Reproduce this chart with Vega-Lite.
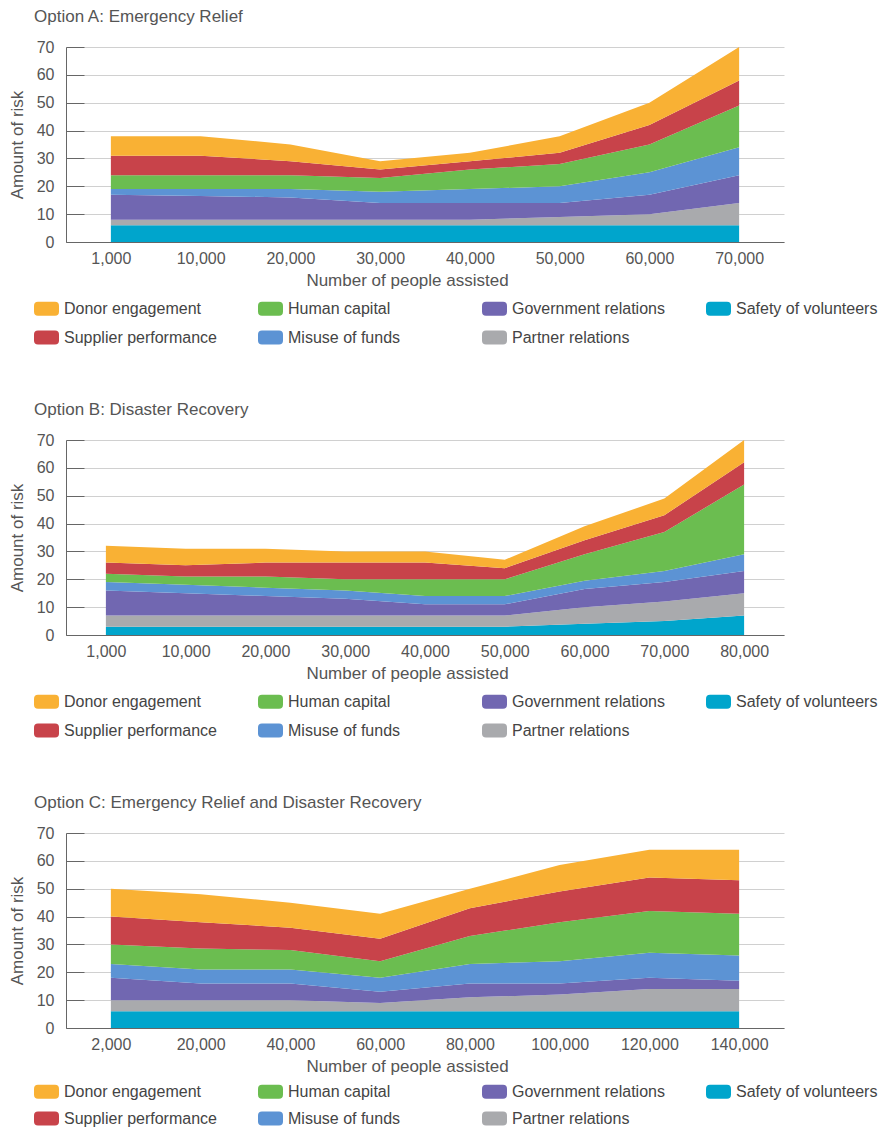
{
  "$schema": "https://vega.github.io/schema/vega-lite/v6.json",
  "background": "white",
  "padding": {"left": 8, "top": 8, "right": 5, "bottom": 0},
  "config": {
    "font": "Liberation Sans",
    "view": {"stroke": null},
    "axis": {"labelFontSize": 16, "labelColor": "#555", "titleFontSize": 17, "titleFontWeight": "normal", "titleColor": "#555", "domainColor": "#666", "gridColor": "#d0d0d0"},
    "title": {"anchor": "start", "frame": "group", "dx": -32, "fontSize": 17, "fontWeight": "normal", "color": "#555", "offset": 13},
    "concat": {"spacing": 55}
  },
  "datasets": {
    "rank": [
      {"risk": "Safety of volunteers", "rank": 1}, {"risk": "Partner relations", "rank": 2}, {"risk": "Government relations", "rank": 3}, {"risk": "Misuse of funds", "rank": 4}, {"risk": "Human capital", "rank": 5}, {"risk": "Supplier performance", "rank": 6}, {"risk": "Donor engagement", "rank": 7}
    ],
    "A": [
      {"people": "1,000", "risk": "Safety of volunteers", "value": 6}, {"people": "1,000", "risk": "Partner relations", "value": 2}, {"people": "1,000", "risk": "Government relations", "value": 9}, {"people": "1,000", "risk": "Misuse of funds", "value": 2}, {"people": "1,000", "risk": "Human capital", "value": 5}, {"people": "1,000", "risk": "Supplier performance", "value": 7}, {"people": "1,000", "risk": "Donor engagement", "value": 7},
      {"people": "10,000", "risk": "Safety of volunteers", "value": 6}, {"people": "10,000", "risk": "Partner relations", "value": 2}, {"people": "10,000", "risk": "Government relations", "value": 8.5}, {"people": "10,000", "risk": "Misuse of funds", "value": 2.5}, {"people": "10,000", "risk": "Human capital", "value": 5}, {"people": "10,000", "risk": "Supplier performance", "value": 7}, {"people": "10,000", "risk": "Donor engagement", "value": 7},
      {"people": "20,000", "risk": "Safety of volunteers", "value": 6}, {"people": "20,000", "risk": "Partner relations", "value": 2}, {"people": "20,000", "risk": "Government relations", "value": 8}, {"people": "20,000", "risk": "Misuse of funds", "value": 3}, {"people": "20,000", "risk": "Human capital", "value": 5}, {"people": "20,000", "risk": "Supplier performance", "value": 5}, {"people": "20,000", "risk": "Donor engagement", "value": 6},
      {"people": "30,000", "risk": "Safety of volunteers", "value": 6}, {"people": "30,000", "risk": "Partner relations", "value": 2}, {"people": "30,000", "risk": "Government relations", "value": 6}, {"people": "30,000", "risk": "Misuse of funds", "value": 4}, {"people": "30,000", "risk": "Human capital", "value": 5}, {"people": "30,000", "risk": "Supplier performance", "value": 3}, {"people": "30,000", "risk": "Donor engagement", "value": 3},
      {"people": "40,000", "risk": "Safety of volunteers", "value": 6}, {"people": "40,000", "risk": "Partner relations", "value": 2}, {"people": "40,000", "risk": "Government relations", "value": 6}, {"people": "40,000", "risk": "Misuse of funds", "value": 5}, {"people": "40,000", "risk": "Human capital", "value": 7}, {"people": "40,000", "risk": "Supplier performance", "value": 3}, {"people": "40,000", "risk": "Donor engagement", "value": 3},
      {"people": "50,000", "risk": "Safety of volunteers", "value": 6}, {"people": "50,000", "risk": "Partner relations", "value": 3}, {"people": "50,000", "risk": "Government relations", "value": 5}, {"people": "50,000", "risk": "Misuse of funds", "value": 6}, {"people": "50,000", "risk": "Human capital", "value": 8}, {"people": "50,000", "risk": "Supplier performance", "value": 4}, {"people": "50,000", "risk": "Donor engagement", "value": 6},
      {"people": "60,000", "risk": "Safety of volunteers", "value": 6}, {"people": "60,000", "risk": "Partner relations", "value": 4}, {"people": "60,000", "risk": "Government relations", "value": 7}, {"people": "60,000", "risk": "Misuse of funds", "value": 8}, {"people": "60,000", "risk": "Human capital", "value": 10}, {"people": "60,000", "risk": "Supplier performance", "value": 7}, {"people": "60,000", "risk": "Donor engagement", "value": 8},
      {"people": "70,000", "risk": "Safety of volunteers", "value": 6}, {"people": "70,000", "risk": "Partner relations", "value": 8}, {"people": "70,000", "risk": "Government relations", "value": 10}, {"people": "70,000", "risk": "Misuse of funds", "value": 10}, {"people": "70,000", "risk": "Human capital", "value": 15}, {"people": "70,000", "risk": "Supplier performance", "value": 9}, {"people": "70,000", "risk": "Donor engagement", "value": 12}
    ],
    "B": [
      {"people": "1,000", "risk": "Safety of volunteers", "value": 3}, {"people": "1,000", "risk": "Partner relations", "value": 4}, {"people": "1,000", "risk": "Government relations", "value": 9}, {"people": "1,000", "risk": "Misuse of funds", "value": 3}, {"people": "1,000", "risk": "Human capital", "value": 3}, {"people": "1,000", "risk": "Supplier performance", "value": 4}, {"people": "1,000", "risk": "Donor engagement", "value": 6},
      {"people": "10,000", "risk": "Safety of volunteers", "value": 3}, {"people": "10,000", "risk": "Partner relations", "value": 4}, {"people": "10,000", "risk": "Government relations", "value": 8}, {"people": "10,000", "risk": "Misuse of funds", "value": 3}, {"people": "10,000", "risk": "Human capital", "value": 3}, {"people": "10,000", "risk": "Supplier performance", "value": 4}, {"people": "10,000", "risk": "Donor engagement", "value": 6},
      {"people": "20,000", "risk": "Safety of volunteers", "value": 3}, {"people": "20,000", "risk": "Partner relations", "value": 4}, {"people": "20,000", "risk": "Government relations", "value": 7}, {"people": "20,000", "risk": "Misuse of funds", "value": 3}, {"people": "20,000", "risk": "Human capital", "value": 4}, {"people": "20,000", "risk": "Supplier performance", "value": 5}, {"people": "20,000", "risk": "Donor engagement", "value": 5},
      {"people": "30,000", "risk": "Safety of volunteers", "value": 3}, {"people": "30,000", "risk": "Partner relations", "value": 4}, {"people": "30,000", "risk": "Government relations", "value": 6}, {"people": "30,000", "risk": "Misuse of funds", "value": 3}, {"people": "30,000", "risk": "Human capital", "value": 4}, {"people": "30,000", "risk": "Supplier performance", "value": 6}, {"people": "30,000", "risk": "Donor engagement", "value": 4},
      {"people": "40,000", "risk": "Safety of volunteers", "value": 3}, {"people": "40,000", "risk": "Partner relations", "value": 4}, {"people": "40,000", "risk": "Government relations", "value": 4}, {"people": "40,000", "risk": "Misuse of funds", "value": 3}, {"people": "40,000", "risk": "Human capital", "value": 6}, {"people": "40,000", "risk": "Supplier performance", "value": 6}, {"people": "40,000", "risk": "Donor engagement", "value": 4},
      {"people": "50,000", "risk": "Safety of volunteers", "value": 3}, {"people": "50,000", "risk": "Partner relations", "value": 4}, {"people": "50,000", "risk": "Government relations", "value": 4}, {"people": "50,000", "risk": "Misuse of funds", "value": 3}, {"people": "50,000", "risk": "Human capital", "value": 6}, {"people": "50,000", "risk": "Supplier performance", "value": 4}, {"people": "50,000", "risk": "Donor engagement", "value": 3},
      {"people": "60,000", "risk": "Safety of volunteers", "value": 4}, {"people": "60,000", "risk": "Partner relations", "value": 6}, {"people": "60,000", "risk": "Government relations", "value": 6.5}, {"people": "60,000", "risk": "Misuse of funds", "value": 3}, {"people": "60,000", "risk": "Human capital", "value": 9.5}, {"people": "60,000", "risk": "Supplier performance", "value": 5}, {"people": "60,000", "risk": "Donor engagement", "value": 5},
      {"people": "70,000", "risk": "Safety of volunteers", "value": 5}, {"people": "70,000", "risk": "Partner relations", "value": 7}, {"people": "70,000", "risk": "Government relations", "value": 7}, {"people": "70,000", "risk": "Misuse of funds", "value": 4}, {"people": "70,000", "risk": "Human capital", "value": 14}, {"people": "70,000", "risk": "Supplier performance", "value": 6}, {"people": "70,000", "risk": "Donor engagement", "value": 6},
      {"people": "80,000", "risk": "Safety of volunteers", "value": 7}, {"people": "80,000", "risk": "Partner relations", "value": 8}, {"people": "80,000", "risk": "Government relations", "value": 8}, {"people": "80,000", "risk": "Misuse of funds", "value": 6}, {"people": "80,000", "risk": "Human capital", "value": 25}, {"people": "80,000", "risk": "Supplier performance", "value": 8}, {"people": "80,000", "risk": "Donor engagement", "value": 8}
    ],
    "C": [
      {"people": "2,000", "risk": "Safety of volunteers", "value": 6}, {"people": "2,000", "risk": "Partner relations", "value": 4}, {"people": "2,000", "risk": "Government relations", "value": 8}, {"people": "2,000", "risk": "Misuse of funds", "value": 5}, {"people": "2,000", "risk": "Human capital", "value": 7}, {"people": "2,000", "risk": "Supplier performance", "value": 10}, {"people": "2,000", "risk": "Donor engagement", "value": 10},
      {"people": "20,000", "risk": "Safety of volunteers", "value": 6}, {"people": "20,000", "risk": "Partner relations", "value": 4}, {"people": "20,000", "risk": "Government relations", "value": 6}, {"people": "20,000", "risk": "Misuse of funds", "value": 5}, {"people": "20,000", "risk": "Human capital", "value": 7.5}, {"people": "20,000", "risk": "Supplier performance", "value": 9.5}, {"people": "20,000", "risk": "Donor engagement", "value": 10},
      {"people": "40,000", "risk": "Safety of volunteers", "value": 6}, {"people": "40,000", "risk": "Partner relations", "value": 4}, {"people": "40,000", "risk": "Government relations", "value": 6}, {"people": "40,000", "risk": "Misuse of funds", "value": 5}, {"people": "40,000", "risk": "Human capital", "value": 7}, {"people": "40,000", "risk": "Supplier performance", "value": 8}, {"people": "40,000", "risk": "Donor engagement", "value": 9},
      {"people": "60,000", "risk": "Safety of volunteers", "value": 6}, {"people": "60,000", "risk": "Partner relations", "value": 3}, {"people": "60,000", "risk": "Government relations", "value": 4}, {"people": "60,000", "risk": "Misuse of funds", "value": 5}, {"people": "60,000", "risk": "Human capital", "value": 6}, {"people": "60,000", "risk": "Supplier performance", "value": 8}, {"people": "60,000", "risk": "Donor engagement", "value": 9},
      {"people": "80,000", "risk": "Safety of volunteers", "value": 6}, {"people": "80,000", "risk": "Partner relations", "value": 5}, {"people": "80,000", "risk": "Government relations", "value": 5}, {"people": "80,000", "risk": "Misuse of funds", "value": 7}, {"people": "80,000", "risk": "Human capital", "value": 10}, {"people": "80,000", "risk": "Supplier performance", "value": 10}, {"people": "80,000", "risk": "Donor engagement", "value": 7},
      {"people": "100,000", "risk": "Safety of volunteers", "value": 6}, {"people": "100,000", "risk": "Partner relations", "value": 6}, {"people": "100,000", "risk": "Government relations", "value": 4}, {"people": "100,000", "risk": "Misuse of funds", "value": 8}, {"people": "100,000", "risk": "Human capital", "value": 14}, {"people": "100,000", "risk": "Supplier performance", "value": 11}, {"people": "100,000", "risk": "Donor engagement", "value": 9.5},
      {"people": "120,000", "risk": "Safety of volunteers", "value": 6}, {"people": "120,000", "risk": "Partner relations", "value": 8}, {"people": "120,000", "risk": "Government relations", "value": 4}, {"people": "120,000", "risk": "Misuse of funds", "value": 9}, {"people": "120,000", "risk": "Human capital", "value": 15}, {"people": "120,000", "risk": "Supplier performance", "value": 12}, {"people": "120,000", "risk": "Donor engagement", "value": 10},
      {"people": "140,000", "risk": "Safety of volunteers", "value": 6}, {"people": "140,000", "risk": "Partner relations", "value": 8}, {"people": "140,000", "risk": "Government relations", "value": 3}, {"people": "140,000", "risk": "Misuse of funds", "value": 9}, {"people": "140,000", "risk": "Human capital", "value": 15}, {"people": "140,000", "risk": "Supplier performance", "value": 12}, {"people": "140,000", "risk": "Donor engagement", "value": 11}
    ]
  },
  "vconcat": [
    {
      "title": "Option A: Emergency Relief",
      "width": 718, "height": 195,
      "data": {"name": "A"},
      "transform": [{"lookup": "risk", "from": {"data": {"name": "rank"}, "key": "risk", "fields": ["rank"]}}],
      "mark": {"type": "area", "interpolate": "linear"},
      "encoding": {
        "x": {"field": "people", "type": "ordinal", "sort": null, "scale": {"type": "point", "padding": 0.5}, "axis": {"title": "Number of people assisted", "titleX": 341, "labelAngle": 0, "ticks": false, "grid": false, "labelPadding": 8, "titlePadding": 6}},
        "y": {"field": "value", "type": "quantitative", "stack": "zero", "scale": {"domain": [0, 70]}, "axis": {"title": "Amount of risk", "values": [0, 10, 20, 30, 40, 50, 60, 70], "tickSize": -18, "tickColor": "#666", "labelPadding": 30, "titlePadding": 10}},
        "order": {"field": "rank", "type": "quantitative", "sort": "ascending"},
        "color": {"field": "risk", "type": "nominal",
          "scale": {"domain": ["Safety of volunteers", "Partner relations", "Government relations", "Misuse of funds", "Human capital", "Supplier performance", "Donor engagement"], "range": ["#00A5CC", "#A9AAAD", "#7167B1", "#5C93D4", "#6BBD50", "#C8434A", "#F9B134"]},
          "legend": {"title": null, "orient": "none", "legendX": -32, "legendY": 249, "columns": 4, "gridAlign": "all", "columnPadding": 41, "rowPadding": 8, "padding": 0, "symbolType": "M-0.68,-0.56 L0.68,-0.56 Q1,-0.56 1,-0.24 L1,0.24 Q1,0.56 0.68,0.56 L-0.68,0.56 Q-1,0.56 -1,0.24 L-1,-0.24 Q-1,-0.56 -0.68,-0.56 Z", "symbolSize": 625, "symbolStrokeWidth": 0, "symbolOpacity": 1, "labelFontSize": 16, "labelColor": "#444", "labelOffset": 5, "labelLimit": 300,
            "values": ["Donor engagement", "Supplier performance", "Human capital", "Misuse of funds", "Government relations", "Partner relations", "Safety of volunteers"]}
        }
      }
    },
    {
      "title": "Option B: Disaster Recovery",
      "width": 718, "height": 195,
      "data": {"name": "B"},
      "transform": [{"lookup": "risk", "from": {"data": {"name": "rank"}, "key": "risk", "fields": ["rank"]}}],
      "mark": {"type": "area", "interpolate": "linear"},
      "encoding": {
        "x": {"field": "people", "type": "ordinal", "sort": null, "scale": {"type": "point", "padding": 0.5}, "axis": {"title": "Number of people assisted", "titleX": 341, "labelAngle": 0, "ticks": false, "grid": false, "labelPadding": 8, "titlePadding": 6}},
        "y": {"field": "value", "type": "quantitative", "stack": "zero", "scale": {"domain": [0, 70]}, "axis": {"title": "Amount of risk", "values": [0, 10, 20, 30, 40, 50, 60, 70], "tickSize": -18, "tickColor": "#666", "labelPadding": 30, "titlePadding": 10}},
        "order": {"field": "rank", "type": "quantitative", "sort": "ascending"},
        "color": {"field": "risk", "type": "nominal",
          "scale": {"domain": ["Safety of volunteers", "Partner relations", "Government relations", "Misuse of funds", "Human capital", "Supplier performance", "Donor engagement"], "range": ["#00A5CC", "#A9AAAD", "#7167B1", "#5C93D4", "#6BBD50", "#C8434A", "#F9B134"]},
          "legend": {"title": null, "orient": "none", "legendX": -32, "legendY": 249, "columns": 4, "gridAlign": "all", "columnPadding": 41, "rowPadding": 8, "padding": 0, "symbolType": "M-0.68,-0.56 L0.68,-0.56 Q1,-0.56 1,-0.24 L1,0.24 Q1,0.56 0.68,0.56 L-0.68,0.56 Q-1,0.56 -1,0.24 L-1,-0.24 Q-1,-0.56 -0.68,-0.56 Z", "symbolSize": 625, "symbolStrokeWidth": 0, "symbolOpacity": 1, "labelFontSize": 16, "labelColor": "#444", "labelOffset": 5, "labelLimit": 300,
            "values": ["Donor engagement", "Supplier performance", "Human capital", "Misuse of funds", "Government relations", "Partner relations", "Safety of volunteers"]}
        }
      }
    },
    {
      "title": "Option C: Emergency Relief and Disaster Recovery",
      "width": 718, "height": 195,
      "data": {"name": "C"},
      "transform": [{"lookup": "risk", "from": {"data": {"name": "rank"}, "key": "risk", "fields": ["rank"]}}],
      "mark": {"type": "area", "interpolate": "linear"},
      "encoding": {
        "x": {"field": "people", "type": "ordinal", "sort": null, "scale": {"type": "point", "padding": 0.5}, "axis": {"title": "Number of people assisted", "titleX": 341, "labelAngle": 0, "ticks": false, "grid": false, "labelPadding": 8, "titlePadding": 6}},
        "y": {"field": "value", "type": "quantitative", "stack": "zero", "scale": {"domain": [0, 70]}, "axis": {"title": "Amount of risk", "values": [0, 10, 20, 30, 40, 50, 60, 70], "tickSize": -18, "tickColor": "#666", "labelPadding": 30, "titlePadding": 10}},
        "order": {"field": "rank", "type": "quantitative", "sort": "ascending"},
        "color": {"field": "risk", "type": "nominal",
          "scale": {"domain": ["Safety of volunteers", "Partner relations", "Government relations", "Misuse of funds", "Human capital", "Supplier performance", "Donor engagement"], "range": ["#00A5CC", "#A9AAAD", "#7167B1", "#5C93D4", "#6BBD50", "#C8434A", "#F9B134"]},
          "legend": {"title": null, "orient": "none", "legendX": -32, "legendY": 246, "columns": 4, "gridAlign": "all", "columnPadding": 41, "rowPadding": 6, "padding": 0, "symbolType": "M-0.68,-0.56 L0.68,-0.56 Q1,-0.56 1,-0.24 L1,0.24 Q1,0.56 0.68,0.56 L-0.68,0.56 Q-1,0.56 -1,0.24 L-1,-0.24 Q-1,-0.56 -0.68,-0.56 Z", "symbolSize": 625, "symbolStrokeWidth": 0, "symbolOpacity": 1, "labelFontSize": 16, "labelColor": "#444", "labelOffset": 5, "labelLimit": 300,
            "values": ["Donor engagement", "Supplier performance", "Human capital", "Misuse of funds", "Government relations", "Partner relations", "Safety of volunteers"]}
        }
      }
    }
  ],
  "resolve": {"scale": {"color": "independent", "x": "independent", "y": "independent"}, "legend": {"color": "independent"}}
}
